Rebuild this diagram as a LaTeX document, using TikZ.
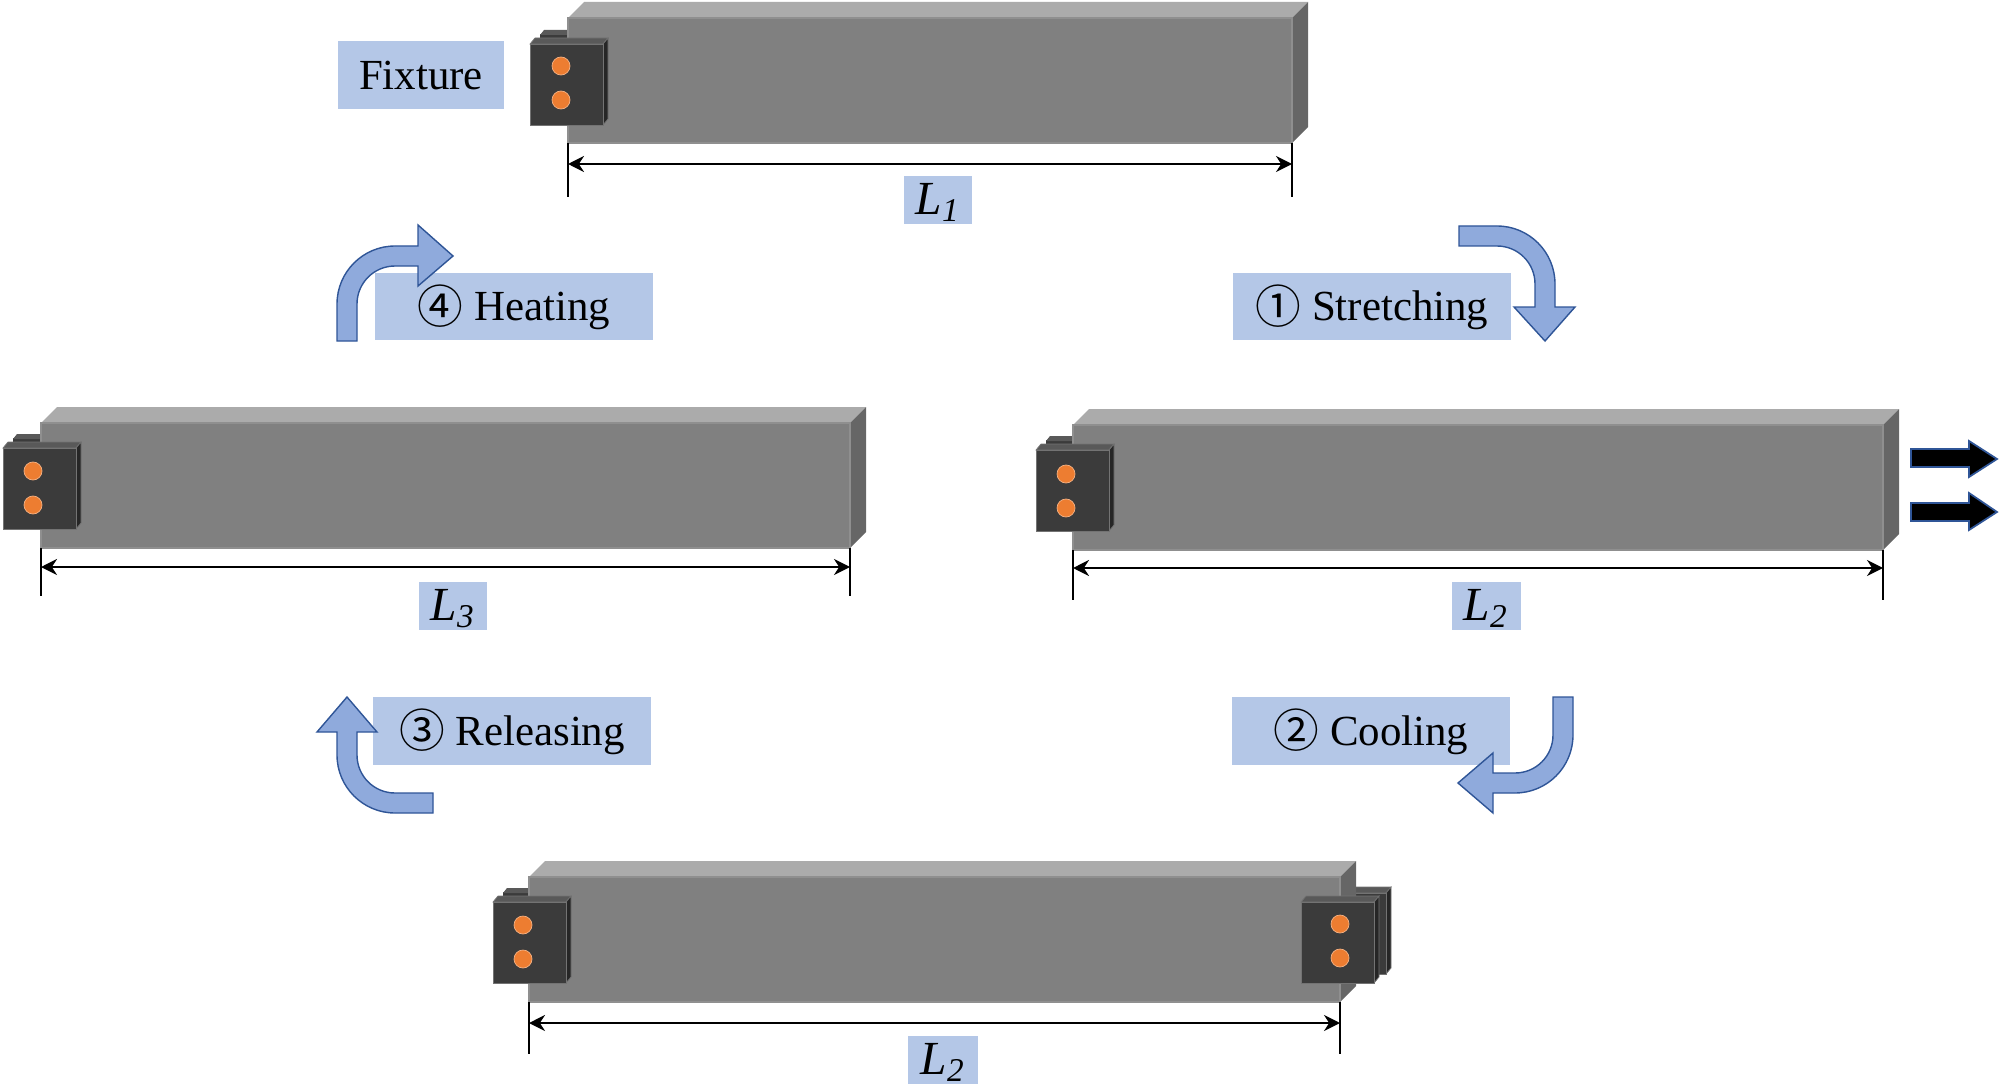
\documentclass[tikz,border=0pt]{standalone}
\usepackage{fontspec}
\setmainfont{Liberation Serif}
\newfontfamily\cjkfont{Noto Sans CJK SC}
\usetikzlibrary{arrows.meta}

\definecolor{boxblue}{HTML}{B4C7E7}
\definecolor{arrowblue}{HTML}{8FAADC}
\definecolor{edgeblue}{HTML}{2F5597}
\definecolor{orangedot}{HTML}{ED7D31}

\tikzset{
    labelbox/.style={fill=boxblue, inner sep=0pt, text height=10pt, text depth=2pt, font=\fontsize{12.2}{14}\selectfont},
    bendarrow/.style={fill=arrowblue, draw=edgeblue, line width=0.4pt},
    pullarrow/.style={fill=black, draw=edgeblue, line width=0.5pt},
    dimline/.style={black, line width=0.6pt, {Stealth[length=0.16cm,width=0.16cm]}-{Stealth[length=0.16cm,width=0.16cm]}},
    dimtick/.style={black, line width=0.6pt},
    beamfront/.style={fill=black!50, draw=black!44, line width=0.3pt},
    beamtop/.style={fill=black!33},
    beamside/.style={fill=black!60},
    platefront/.style={fill=black!77, draw=black!55, line width=0.25pt},
    platetop/.style={fill=black!65, draw=black!55, line width=0.2pt},
    plateside/.style={fill=black!85, draw=black!55, line width=0.2pt},
    platedot/.style={fill=orangedot, draw=orangedot!60!white, line width=0.2pt}
}

\newcommand{\circled}[1]{\raisebox{-0.7pt}{\cjkfont\fontsize{13}{14}\selectfont #1}}
\newcommand{\lengthtext}[1]{\fontsize{13.5}{14}\selectfont\textit{L\textsubscript{#1}}}

% #1 left, #2 top of the front face of a clamp plate
\newcommand{\clampplate}[2]{
    \fill[platetop] (#1,#2) -- (#1+5,#2-6) -- (#1+78,#2-6) -- (#1+73,#2) -- cycle;
    \fill[plateside] (#1+73,#2) -- (#1+78,#2-6) -- (#1+78,#2+75) -- (#1+73,#2+81) -- cycle;
    \filldraw[platefront] (#1,#2) rectangle (#1+73,#2+81);
}
\newcommand{\clampdots}[2]{
    \filldraw[platedot] (#1+31,#2+22) circle (9);
    \filldraw[platedot] (#1+31,#2+56) circle (9);
}
\newcommand{\clamptab}[2]{
    \fill[platefront, draw=none] (#1+10,#2-10) rectangle (#1+38,#2-1);
    \fill[platetop, draw=none] (#1+10,#2-9) -- (#1+14,#2-14) -- (#1+38,#2-14) -- (#1+38,#2-9) -- cycle;
}
% #1 left, #2 right, #3 top, #4 bottom of the front face of a bar
\newcommand{\barbody}[4]{
    \fill[beamtop] (#1,#3) -- (#1+16,#3-16) -- (#2+16,#3-16) -- (#2,#3) -- cycle;
    \fill[beamside] (#2,#3) -- (#2+16,#3-16) -- (#2+16,#4-16) -- (#2,#4) -- cycle;
    \filldraw[beamfront] (#1,#3) rectangle (#2,#4);
}

\begin{document}
\begin{tikzpicture}[x=0.01cm, y=-0.01cm]
    \useasboundingbox (0,0) rectangle (2000,1088);

    % top bar
    \clamptab{530}{44}
    \barbody{568}{1292}{18}{143}
    \clampplate{530}{44}
    \clampdots{530}{44}
    \coordinate (topA) at (568,143);
    \coordinate (topB) at (1292,143);
    \coordinate (topC) at (568,197);
    \coordinate (topD) at (1292,197);
    \coordinate (topE) at (568,164);
    \coordinate (topF) at (1292,164);
    \draw[dimtick] (topA) -- (topC);
    \draw[dimtick] (topB) -- (topD);
    \draw[dimline] (topE) -- (topF);

    % right bar
    \clamptab{1036}{450}
    \barbody{1073}{1883}{425}{550}
    \clampplate{1036}{450}
    \clampdots{1035}{452}
    \coordinate (rightA) at (1073,550);
    \coordinate (rightB) at (1883,550);
    \coordinate (rightC) at (1073,600);
    \coordinate (rightD) at (1883,600);
    \coordinate (rightE) at (1073,568);
    \coordinate (rightF) at (1883,568);
    \draw[dimtick] (rightA) -- (rightC);
    \draw[dimtick] (rightB) -- (rightD);
    \draw[dimline] (rightE) -- (rightF);

    % left bar
    \clamptab{3}{448}
    \barbody{41}{850}{423}{548}
    \clampplate{3}{448}
    \clampdots{2}{449}
    \coordinate (leftA) at (41,548);
    \coordinate (leftB) at (850,548);
    \coordinate (leftC) at (41,596);
    \coordinate (leftD) at (850,596);
    \coordinate (leftE) at (41,567);
    \coordinate (leftF) at (850,567);
    \draw[dimtick] (leftA) -- (leftC);
    \draw[dimtick] (leftB) -- (leftD);
    \draw[dimline] (leftE) -- (leftF);

    % bottom bar
    \clamptab{493}{902}
    \clampplate{1313}{893}
    \barbody{529}{1340}{877}{1002}
    \clampplate{493}{902}
    \clampdots{492}{903}
    \clampplate{1301}{902}
    \clampdots{1309}{902}
    \coordinate (lowA) at (529,1002);
    \coordinate (lowB) at (1340,1002);
    \coordinate (lowC) at (529,1054);
    \coordinate (lowD) at (1340,1054);
    \coordinate (lowE) at (529,1023);
    \coordinate (lowF) at (1340,1023);
    \draw[dimtick] (lowA) -- (lowC);
    \draw[dimtick] (lowB) -- (lowD);
    \draw[dimline] (lowE) -- (lowF);

    % labels
    \node[labelbox, minimum width=1.66cm, minimum height=0.68cm] (fixture) at (421,75) {Fixture};
    \node[labelbox, minimum width=0.68cm, minimum height=0.47cm] (lengthA) at (938,200) {\lengthtext{1}};
    \node[labelbox, minimum width=0.69cm, minimum height=0.47cm] (lengthB) at (1486,606) {\lengthtext{2}};
    \node[labelbox, minimum width=0.68cm, minimum height=0.47cm] (lengthC) at (453,606) {\lengthtext{3}};
    \node[labelbox, minimum width=0.69cm, minimum height=0.48cm] (lengthD) at (943,1060) {\lengthtext{2}};
    \node[labelbox, minimum width=2.78cm, minimum height=0.67cm] (stretching) at (1372,306.5) {\circled{①} Stretching};
    \node[labelbox, minimum width=2.78cm, minimum height=0.68cm] (cooling) at (1371,731) {\circled{②} Cooling};
    \node[labelbox, minimum width=2.78cm, minimum height=0.68cm] (releasing) at (512,731) {\circled{③} Releasing};
    \node[labelbox, minimum width=2.78cm, minimum height=0.67cm] (heating) at (514,306.5) {\circled{④} Heating};

    % bent arrows
    \draw[bendarrow] (1459,226) -- (1497,226) arc[start angle=-90, end angle=0, radius=58] -- (1555,307) -- (1575,307) -- (1545,341) -- (1514,307) -- (1535,307) -- (1535,284) arc[start angle=0, end angle=-90, radius=38] -- (1459,246) -- cycle;
    \draw[bendarrow] (1573,697) -- (1573,735) arc[start angle=0, end angle=90, radius=58] -- (1493,793) -- (1493,813) -- (1458,783) -- (1493,753) -- (1493,773) -- (1515,773) arc[start angle=90, end angle=0, radius=38] -- (1553,697) -- cycle;
    \draw[bendarrow] (433,813) -- (395,813) arc[start angle=90, end angle=180, radius=58] -- (337,732) -- (317,732) -- (347,697) -- (377,732) -- (357,732) -- (357,755) arc[start angle=180, end angle=90, radius=38] -- (433,793) -- cycle;
    \draw[bendarrow] (337,341) -- (337,304) arc[start angle=180, end angle=270, radius=58] -- (418,246) -- (418,225) -- (453,256) -- (418,286) -- (418,266) -- (395,266) arc[start angle=270, end angle=180, radius=38] -- (357,341) -- cycle;

    % pulling arrows
    \draw[pullarrow] (1911,449) -- (1969,449) -- (1969,441) -- (1997,459) -- (1969,477) -- (1969,467) -- (1911,467) -- cycle;
    \draw[pullarrow] (1911,503) -- (1969,503) -- (1969,493) -- (1997,512) -- (1969,530) -- (1969,521) -- (1911,521) -- cycle;
\end{tikzpicture}
\end{document}
